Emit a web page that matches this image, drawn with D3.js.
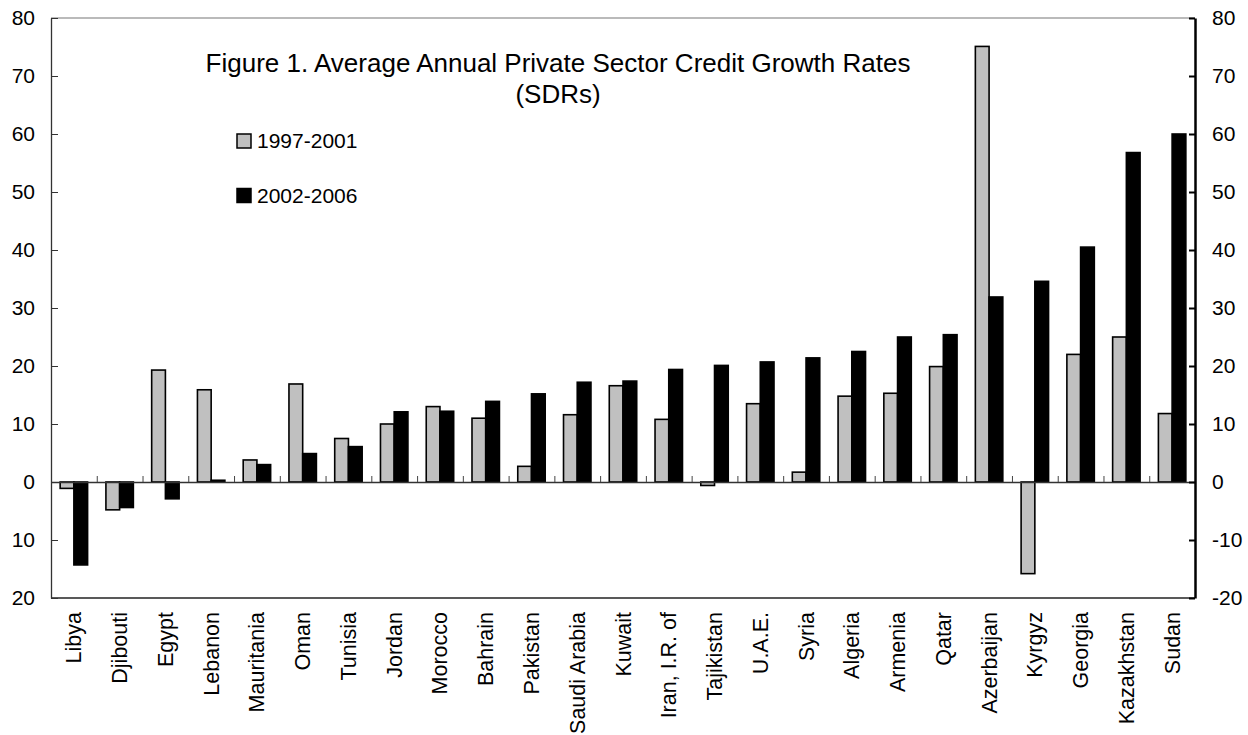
<!DOCTYPE html>
<html>
<head>
<meta charset="utf-8">
<script src="https://cdn.jsdelivr.net/npm/d3@7"></script>
<style>
body { margin: 0; background: #fff; }
svg { font-family: "Liberation Sans", Arial, sans-serif; }
</style>
</head>
<body>
<svg id="chart"></svg>
<script>
// countries, sorted as in the figure
const COUNTRIES = ["Libya", "Djibouti", "Egypt", "Lebanon", "Mauritania", "Oman", "Tunisia",
    "Jordan", "Morocco", "Bahrain", "Pakistan", "Saudi Arabia", "Kuwait", "Iran, I.R. of",
    "Tajikistan", "U.A.E.", "Syria", "Algeria", "Armenia", "Qatar", "Azerbaijan", "Kyrgyz",
    "Georgia", "Kazakhstan", "Sudan"];

const SERIES = ["1997-2001", "2002-2006"];

const GROWTH_97_01 = [-1.1, -4.8, 19.3, 15.9, 3.8, 16.9, 7.5, 10.0, 13.0, 11.0, 2.7, 11.6,
    16.6, 10.8, -0.6, 13.5, 1.7, 14.8, 15.3, 19.9, 75.1, -15.8, 22.0, 25.0, 11.8];

const GROWTH_02_06 = [-14.3, -4.4, -2.9, 0.3, 3.0, 4.9, 6.1, 12.1, 12.2, 13.9, 15.2, 17.2,
    17.4, 19.4, 20.1, 20.7, 21.4, 22.5, 25.0, 25.4, 31.9, 34.6, 40.5, 56.8, 60.0];

const Y_TICKS = [-20, -10, 0, 10, 20, 30, 40, 50, 60, 70, 80];

const WIDTH = 1248;
const HEIGHT = 735;
const LEFT = 51, RIGHT = 1195, TOP = 18, BOTTOM = 598;

const svg = d3.select("#chart")
    .attr("width", WIDTH)
    .attr("height", HEIGHT);

const x = d3.scaleBand()
    .domain(COUNTRIES)
    .range([LEFT, RIGHT])
    .padding(0);

const x1 = d3.scaleBand()
    .domain(SERIES)
    .range([0, x.bandwidth()])
    .paddingInner(0)
    .paddingOuter(0.667);

const y = d3.scaleLinear()
    .domain([-20, 80])
    .range([BOTTOM, TOP]);

const color = d3.scaleOrdinal()
    .domain(SERIES)
    .range(["#c0c0c0", "#000000"]);

// frame top and bottom
svg.append("line")
    .attr("x1", LEFT).attr("x2", RIGHT)
    .attr("y1", TOP).attr("y2", TOP)
    .attr("stroke", "#777").attr("stroke-width", 1.2);
svg.append("line")
    .attr("x1", LEFT).attr("x2", RIGHT)
    .attr("y1", BOTTOM).attr("y2", BOTTOM)
    .attr("stroke", "#222").attr("stroke-width", 1.5);

// bars
const rows = COUNTRIES.map(function(c, i) {
    return { country: c, values: [GROWTH_97_01[i], GROWTH_02_06[i]] };
});

const groups = svg.selectAll(".country")
    .data(rows)
    .enter()
    .append("g")
    .attr("class", "country")
    .attr("transform", function(d) { return "translate(" + x(d.country) + ",0)"; });

groups.selectAll("rect")
    .data(function(d) {
        return SERIES.map(function(s, j) { return { series: s, value: d.values[j] }; });
    })
    .enter()
    .append("rect")
    .attr("x", function(d) { return x1(d.series); })
    .attr("width", x1.bandwidth())
    .attr("y", function(d) { return y(Math.max(0, d.value)); })
    .attr("height", function(d) { return Math.abs(y(d.value) - y(0)); })
    .attr("fill", function(d) { return color(d.series); })
    .attr("stroke", "#000")
    .attr("stroke-width", 1.6);

// zero line with small ticks between countries
const idx = d3.scaleLinear().domain([0, COUNTRIES.length]).range([LEFT, RIGHT]);
const zeroAxis = svg.append("g")
    .attr("transform", "translate(0," + y(0) + ")")
    .call(d3.axisTop(idx)
        .tickValues(d3.range(1, COUNTRIES.length))
        .tickSize(6)
        .tickSizeOuter(0)
        .tickFormat(""));
zeroAxis.select(".domain").attr("stroke", "#333").attr("stroke-width", 1.3);
zeroAxis.selectAll(".tick line").attr("stroke", "#444").attr("stroke-width", 1);

// left axis (negatives shown without sign)
const leftAxis = svg.append("g")
    .attr("transform", "translate(" + LEFT + ",0)")
    .call(d3.axisLeft(y)
        .tickValues(Y_TICKS)
        .tickSizeInner(-7)
        .tickSizeOuter(0)
        .tickPadding(16)
        .tickFormat(function(d) { return String(Math.abs(d)); }));
leftAxis.select(".domain").attr("stroke", "#333").attr("stroke-width", 1.3);
leftAxis.selectAll(".tick line").attr("stroke", "#333");
leftAxis.selectAll("text")
    .attr("font-size", 21)
    .attr("fill", "#000")
    .attr("font-family", "Liberation Sans, Arial, sans-serif");

// right axis
const rightAxis = svg.append("g")
    .attr("transform", "translate(" + RIGHT + ",0)")
    .call(d3.axisRight(y)
        .tickValues(Y_TICKS)
        .tickSizeInner(-6)
        .tickSizeOuter(0)
        .tickPadding(17)
        .tickFormat(function(d) { return String(d); }));
rightAxis.select(".domain").attr("stroke", "#000").attr("stroke-width", 2.5);
rightAxis.selectAll(".tick line").attr("stroke", "#000").attr("stroke-width", 2);
rightAxis.selectAll("text")
    .attr("font-size", 21)
    .attr("fill", "#000")
    .attr("font-family", "Liberation Sans, Arial, sans-serif");

// country labels
svg.selectAll(".label")
    .data(COUNTRIES)
    .enter()
    .append("text")
    .attr("class", "label")
    .attr("transform", function(d) {
        return "translate(" + (x(d) + x.bandwidth() / 2) + "," + 612 + ") rotate(-90)";
    })
    .attr("dy", "0.35em")
    .attr("text-anchor", "end")
    .attr("font-size", 21.5)
    .text(function(d) { return d; });

// title
svg.append("text")
    .attr("x", 558)
    .attr("y", 72)
    .attr("text-anchor", "middle")
    .attr("font-size", 26)
    .text("Figure 1. Average Annual Private Sector Credit Growth Rates");
svg.append("text")
    .attr("x", 558)
    .attr("y", 103)
    .attr("text-anchor", "middle")
    .attr("font-size", 26)
    .text("(SDRs)");

// legend
const legend = svg.selectAll(".legend")
    .data(color.domain())
    .enter()
    .append("g")
    .attr("class", "legend")
    .attr("transform", function(d, i) { return "translate(237," + (134 + i * 54.5) + ")"; });

legend.append("rect")
    .attr("width", 14)
    .attr("height", 14)
    .attr("fill", color)
    .attr("stroke", "#000")
    .attr("stroke-width", 1.5);

legend.append("text")
    .attr("x", 20)
    .attr("y", 14)
    .attr("font-size", 21)
    .text(function(d) { return d; });
</script>
</body>
</html>
